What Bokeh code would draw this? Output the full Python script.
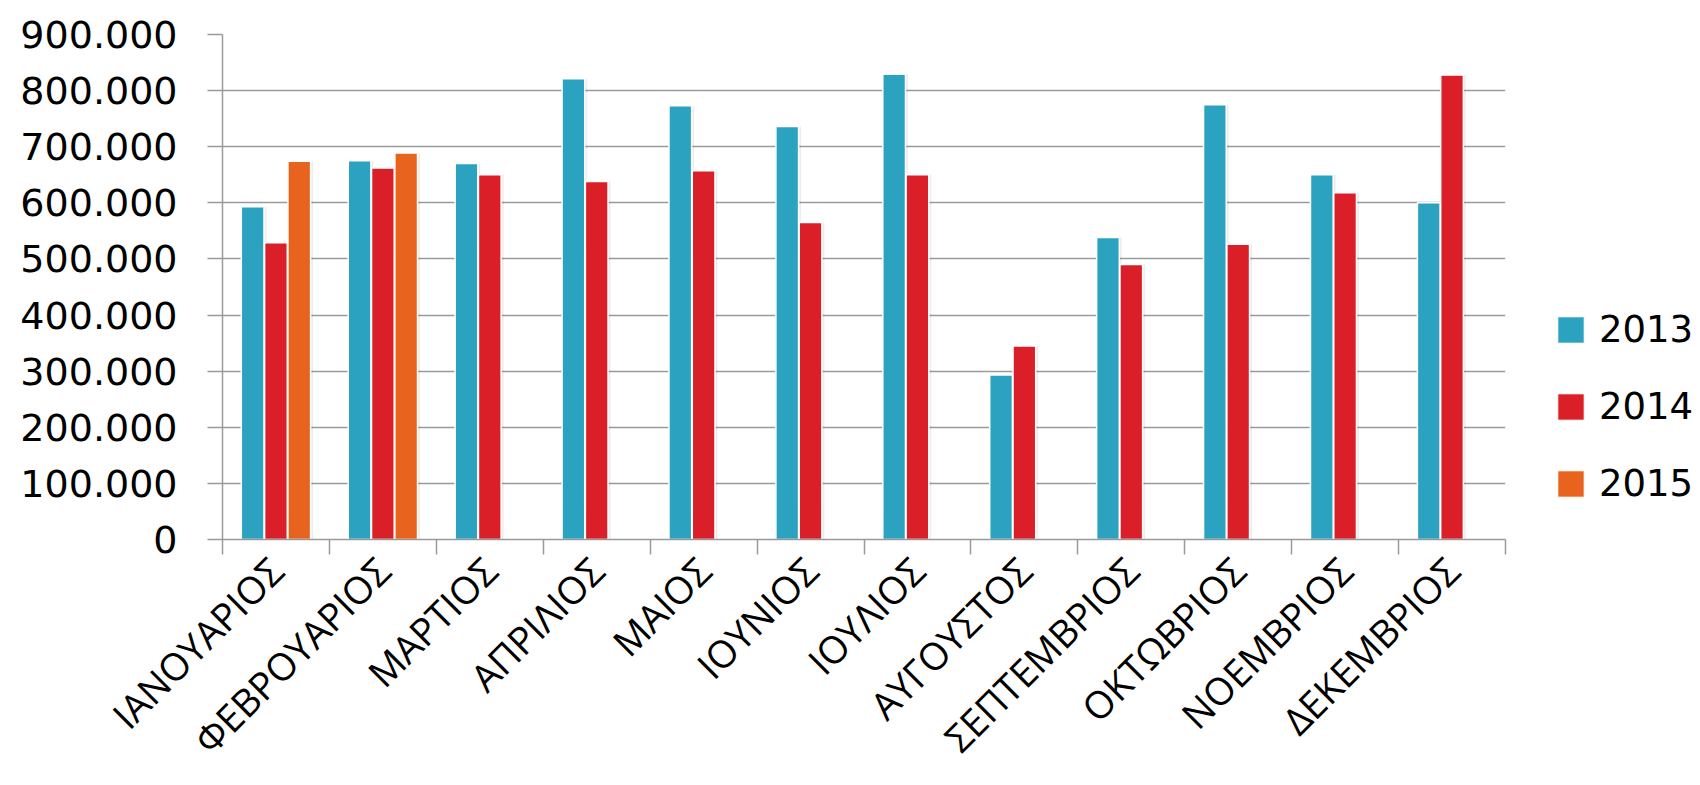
import math
from bokeh.plotting import figure
from bokeh.layouts import row
from bokeh.models import Range1d, FixedTicker, Legend, LegendItem, ColumnDataSource
from bokeh.transform import dodge
from bokeh.embed import file_html
from bokeh.resources import INLINE

# ---- data ----
months = ["ΙΑΝΟΥΑΡΙΟΣ", "ΦΕΒΡΟΥΑΡΙΟΣ", "ΜΑΡΤΙΟΣ", "ΑΠΡΙΛΙΟΣ", "ΜΑΙΟΣ", "ΙΟΥΝΙΟΣ",
          "ΙΟΥΛΙΟΣ", "ΑΥΓΟΥΣΤΟΣ", "ΣΕΠΤΕΜΒΡΙΟΣ", "ΟΚΤΩΒΡΙΟΣ", "ΝΟΕΜΒΡΙΟΣ", "ΔΕΚΕΜΒΡΙΟΣ"]
v2013 = [593000, 675000, 670000, 821000, 773000, 736000, 829000, 293000, 538000, 775000, 650000, 600000]
v2014 = [529000, 662000, 650000, 638000, 657000, 565000, 650000, 345000, 490000, 526000, 618000, 828000]
v2015 = [674000, 689000]
series_names = ["2013", "2014", "2015"]
colors = ["#2ba2bf", "#da1f28", "#e8641e"]
y_ticks = [0, 100000, 200000, 300000, 400000, 500000, 600000, 700000, 800000, 900000]
y_tick_labels = ["0", "100.000", "200.000", "300.000", "400.000", "500.000",
                 "600.000", "700.000", "800.000", "900.000"]

pos = [i + 0.5 for i in range(len(months))]
bounds = list(range(len(months) + 1))

p = figure(width=1520, height=785, output_backend="svg", toolbar_location=None,
           x_range=Range1d(0, len(months)), y_range=Range1d(0, 900000),
           min_border_left=222, min_border_right=15, min_border_top=34, min_border_bottom=246)
p.outline_line_color = None
p.background_fill_color = "white"
p.border_fill_color = "white"

series = [v2013, v2014, v2015]
offsets = [-0.218, 0.0, 0.218]
for vals, off, col in zip(series, offsets, colors):
    src = ColumnDataSource(dict(x=pos[:len(vals)], top=vals))
    p.vbar(x=dodge("x", off + 0.012), top="top", bottom=0, width=0.235, source=src,
           fill_color="#000000", fill_alpha=0.07, line_color=None)
    p.vbar(x=dodge("x", off), top="top", bottom=0, width=0.212, source=src,
           fill_color=col, line_color="white", line_width=1.5)

# axes
grey = "#9a9a9a"
p.xgrid.grid_line_color = None
p.ygrid.grid_line_color = grey
p.ygrid.grid_line_width = 1.5
p.ygrid.ticker = FixedTicker(ticks=y_ticks)

p.yaxis.ticker = FixedTicker(ticks=y_ticks)
p.yaxis.major_label_overrides = {t: l for t, l in zip(y_ticks, y_tick_labels)}
p.yaxis.axis_line_color = grey
p.yaxis.axis_line_width = 1.5
p.yaxis.major_tick_line_color = grey
p.yaxis.major_tick_line_width = 1.5
p.yaxis.major_tick_out = 15
p.yaxis.major_tick_in = 0
p.yaxis.minor_tick_line_color = None
p.yaxis.major_label_standoff = 30
p.yaxis.major_label_text_font = "DejaVu Sans"
p.yaxis.major_label_text_font_size = "38px"
p.yaxis.major_label_text_color = "black"

p.xaxis.ticker = FixedTicker(ticks=pos, minor_ticks=bounds)
p.xaxis.major_label_overrides = {t: m for t, m in zip(pos, months)}
p.xaxis.major_label_orientation = math.pi / 4
p.xaxis.axis_line_color = grey
p.xaxis.axis_line_width = 1.5
p.xaxis.major_tick_line_color = None
p.xaxis.major_tick_out = 15
p.xaxis.minor_tick_line_color = grey
p.xaxis.minor_tick_line_width = 1.5
p.xaxis.minor_tick_out = 15
p.xaxis.minor_tick_in = 0
p.xaxis.major_label_standoff = 9
p.xaxis.major_label_text_font = "Open Sans"
p.xaxis.major_label_text_font_size = "38px"
p.xaxis.major_label_text_color = "black"

# legend panel (separate figure to the right of the plot area)
lg = figure(width=180, height=785, output_backend="svg", toolbar_location=None,
            x_range=Range1d(0, 1), y_range=Range1d(0, 1),
            min_border=0, min_border_left=0, min_border_right=0,
            min_border_top=0, min_border_bottom=0)
lg.axis.visible = False
lg.grid.visible = False
lg.outline_line_color = None
items = []
for n, col in zip(series_names, colors):
    # swatch-only renderer: its bar lies outside the visible range
    r = lg.vbar(x=[5], top=[5], bottom=[4], width=0.5, fill_color=col,
                line_color="white", line_width=1.0)
    items.append(LegendItem(label=n, renderers=[r]))
legend = Legend(items=items, location=(34, 34), orientation="vertical",
                glyph_width=33, glyph_height=33, label_standoff=12, spacing=34,
                padding=0, margin=0, border_line_color=None, background_fill_alpha=0,
                label_text_font="DejaVu Sans", label_text_font_size="37px",
                label_text_color="black")
lg.add_layout(legend, "center")

layout = row(p, lg, spacing=0)
open("out.html", "w").write(file_html(layout, INLINE))
